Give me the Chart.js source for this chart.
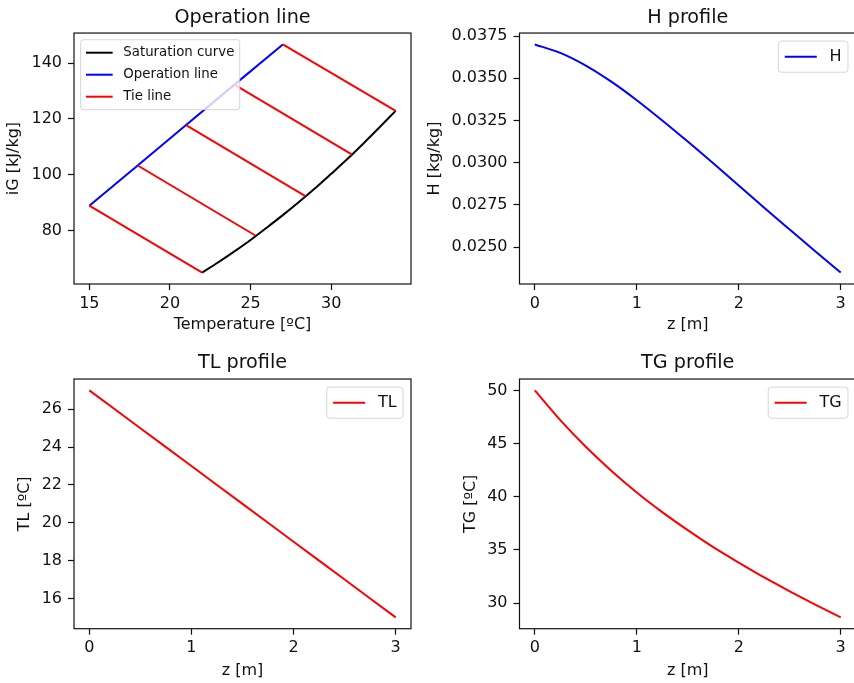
<!DOCTYPE html>
<html>
<head>
<meta charset="utf-8">
<title>Cooling tower profiles</title>
<script src="https://cdn.jsdelivr.net/npm/chart.js@4.4.0/dist/chart.umd.min.js"></script>
<style>
  html, body { margin: 0; padding: 0; background: #fff; overflow: hidden; }
  #page { position: relative; width: 854px; height: 683px; overflow: hidden; }
  canvas { position: absolute; }
</style>
</head>
<body>
<div id="page">
  <canvas id="opChart" width="427" height="340" style="left:0;top:0"></canvas>
  <canvas id="hChart" width="440" height="340" style="left:417px;top:0"></canvas>
  <canvas id="tlChart" width="427" height="343" style="left:0;top:340px"></canvas>
  <canvas id="tgChart" width="440" height="343" style="left:417px;top:340px"></canvas>
</div>
<script>
// === Operation line (enthalpy vs temperature) ===
const satT = [22, 23, 24, 25, 26, 27, 28, 29, 30, 31, 32, 33, 34];
const satIG = [64.9, 68.6, 72.5, 76.6, 81.0, 85.5, 90.2, 95.1, 100.3, 105.6, 111.2, 117.0, 122.9];
const opT = [15, 18, 21, 24, 27];
const opIG = [88.9, 103.3, 117.8, 132.3, 146.7];
// tie lines go from each operation point to the saturation curve
const tieT = [22.0, 25.3, 28.4, 31.3, 34.0];
const tieIG = [64.9, 78.2, 92.3, 107.2, 122.9];
const tempTicks = [15, 20, 25, 30];
const igTicks = [80, 100, 120, 140];

// === Profiles along the column height ===
const z = [0, 0.25, 0.5, 0.75, 1, 1.25, 1.5, 1.75, 2, 2.25, 2.5, 2.75, 3];
const H = [0.03700, 0.03650, 0.03575, 0.03480, 0.03370, 0.03250, 0.03125, 0.02996, 0.02865, 0.02733, 0.02604, 0.02476, 0.02349];
const TL = [27, 26, 25, 24, 23, 22, 21, 20, 19, 18, 17, 16, 15];
const TG = [50, 47.2, 44.7, 42.45, 40.4, 38.55, 36.85, 35.25, 33.8, 32.4, 31.1, 29.85, 28.65];
const zTicks = [0, 1, 2, 3];
const hTicks = [0.025, 0.0275, 0.03, 0.0325, 0.035, 0.0375];
const tlTicks = [16, 18, 20, 22, 24, 26];
const tgTicks = [30, 35, 40, 45, 50];

Chart.defaults.font.family = '"DejaVu Sans", sans-serif';
Chart.defaults.font.size = 16;
Chart.defaults.color = '#111';
Chart.defaults.animation = false;

// matplotlib-like 5% margins
function padRange(vals) {
    const lo = Math.min(...vals), hi = Math.max(...vals), m = (hi - lo) * 0.05;
    return { min: lo - m, max: hi + m };
}

function pts(xs, ys) {
    return xs.map((x, i) => ({ x: x, y: ys[i] }));
}

// box around the plot area
const frame = {
    id: 'frame',
    afterDatasetsDraw(chart) {
        const a = chart.chartArea, ctx = chart.ctx;
        ctx.save();
        ctx.strokeStyle = '#111';
        ctx.lineWidth = 1.2;
        ctx.strokeRect(a.left, a.top, a.right - a.left, a.bottom - a.top);
        ctx.restore();
    }
};

// legend inside the plot area, like matplotlib
const boxLegend = {
    id: 'boxLegend',
    afterDraw(chart, args, opts) {
        if (!opts.fontSize) return;
        const ctx = chart.ctx, a = chart.chartArea, f = opts.fontSize;
        const items = [];
        chart.data.datasets.forEach(ds => {
            if (!items.find(s => s.label === ds.label)) items.push(ds);
        });
        ctx.save();
        ctx.font = f + 'px "DejaVu Sans"';
        const textW = Math.max(...items.map(s => ctx.measureText(s.label).width));
        const bp = 0.4 * f, rowH = 1.15 * f, sp = 0.5 * f, hl = 2 * f, tp = 0.8 * f, ax = 0.5 * f;
        const w = 2 * bp + hl + tp + textW;
        const h = 2 * bp + items.length * rowH + (items.length - 1) * sp;
        const x = opts.corner === 'left' ? a.left + ax : a.right - ax - w;
        const y = a.top + ax;
        ctx.beginPath();
        ctx.roundRect(x, y, w, h, 0.2 * f);
        ctx.fillStyle = 'rgba(255,255,255,0.8)';
        ctx.fill();
        ctx.strokeStyle = 'rgba(204,204,204,0.8)';
        ctx.lineWidth = 1;
        ctx.stroke();
        items.forEach((s, i) => {
            const cy = y + bp + i * (rowH + sp) + rowH / 2;
            ctx.beginPath();
            ctx.moveTo(x + bp, cy);
            ctx.lineTo(x + bp + hl, cy);
            ctx.strokeStyle = s.borderColor;
            ctx.lineWidth = s.borderWidth;
            ctx.stroke();
            ctx.fillStyle = '#111';
            ctx.textBaseline = 'middle';
            ctx.textAlign = 'left';
            ctx.fillText(s.label, x + bp + hl + tp, cy);
        });
        ctx.restore();
    }
};

function xScale(range, ticks, label, height, titlePad) {
    return {
        type: 'linear', position: 'bottom', min: range.min, max: range.max,
        afterBuildTicks: s => { s.ticks = ticks.map(v => ({ value: v })); },
        afterFit: s => { s.height = height; },
        ticks: { autoSkip: false, maxRotation: 0, padding: 4 },
        grid: { drawOnChartArea: false, tickLength: 6, tickColor: '#111', tickWidth: 1.2 },
        border: { display: false },
        title: { display: true, text: label, padding: { top: 0, bottom: titlePad } }
    };
}

function yScale(range, ticks, label, width, titlePad, fmt) {
    return {
        type: 'linear', position: 'left', min: range.min, max: range.max,
        afterBuildTicks: s => { s.ticks = ticks.map(v => ({ value: v })); },
        afterFit: s => { s.width = width; },
        ticks: { autoSkip: false, padding: 6, callback: fmt || (v => String(v)) },
        grid: { drawOnChartArea: false, tickLength: 6, tickColor: '#111', tickWidth: 1.2 },
        border: { display: false },
        title: { display: true, text: label, padding: { top: titlePad, bottom: 0 } }
    };
}

function titleOpts(text, top, bottom) {
    return {
        display: true, text: text, fullSize: false,
        font: { size: 19.2, weight: 'normal' },
        padding: { top: top, bottom: bottom }
    };
}

function lineSet(label, data, color, smooth) {
    return {
        label: label, data: data, borderColor: color, backgroundColor: color,
        borderWidth: 2, pointRadius: 0, fill: false,
        cubicInterpolationMode: smooth ? 'monotone' : 'default', tension: 0
    };
}

// === Operation line ===
const opDatasets = [
    Object.assign(lineSet('Saturation curve', pts(satT, satIG), '#000000', true), { order: 2 }),
    Object.assign(lineSet('Operation line', pts(opT, opIG), '#0000ff', false), { order: 1 })
];
opT.forEach((t, i) => {
    opDatasets.push(Object.assign(
        lineSet('Tie line', [{ x: t, y: opIG[i] }, { x: tieT[i], y: tieIG[i] }], '#ff0000', false),
        { order: 0 }));
});

new Chart(document.getElementById('opChart'), {
    type: 'line',
    data: { datasets: opDatasets },
    options: {
        responsive: false,
        layout: { padding: { left: 0, right: 16, top: 0, bottom: 0 } },
        scales: {
            x: xScale(padRange(satT.concat(opT)), tempTicks, 'Temperature [ºC]', 56, 5.4),
            y: yScale(padRange(satIG.concat(opIG)), igTicks, 'iG [kJ/kg]', 74, 4.4)
        },
        plugins: {
            legend: { display: false },
            tooltip: { enabled: false },
            title: titleOpts('Operation line', 6, 4),
            boxLegend: { fontSize: 13.33, corner: 'left' }
        }
    },
    plugins: [frame, boxLegend]
});

// === H profile ===
new Chart(document.getElementById('hChart'), {
    type: 'line',
    data: { datasets: [lineSet('H', pts(z, H), '#0000ff', true)] },
    options: {
        responsive: false,
        layout: { padding: { left: 0, right: 1, top: 0, bottom: 0 } },
        scales: {
            x: xScale(padRange(z), zTicks, 'z [m]', 56, 5.4),
            y: yScale(padRange(H), hTicks, 'H [kg/kg]', 102.5, 7.9, v => v.toFixed(4))
        },
        plugins: {
            legend: { display: false },
            tooltip: { enabled: false },
            title: titleOpts('H profile', 6, 4),
            boxLegend: { fontSize: 16, corner: 'right' }
        }
    },
    plugins: [frame, boxLegend]
});

// === TL profile ===
new Chart(document.getElementById('tlChart'), {
    type: 'line',
    data: { datasets: [lineSet('TL', pts(z, TL), '#ff0000', false)] },
    options: {
        responsive: false,
        layout: { padding: { left: 0, right: 16, top: 0, bottom: 0 } },
        scales: {
            x: xScale(padRange(z), zTicks, 'z [m]', 54.3, 2.9),
            y: yScale(padRange(TL), tlTicks, 'TL [ºC]', 74, 15.7)
        },
        plugins: {
            legend: { display: false },
            tooltip: { enabled: false },
            title: titleOpts('TL profile', 11, 5),
            boxLegend: { fontSize: 16, corner: 'right' }
        }
    },
    plugins: [frame, boxLegend]
});

// === TG profile ===
new Chart(document.getElementById('tgChart'), {
    type: 'line',
    data: { datasets: [lineSet('TG', pts(z, TG), '#ff0000', true)] },
    options: {
        responsive: false,
        layout: { padding: { left: 0, right: 1, top: 0, bottom: 0 } },
        scales: {
            x: xScale(padRange(z), zTicks, 'z [m]', 54.3, 2.9),
            y: yScale(padRange(TG), tgTicks, 'TG [ºC]', 102.5, 44.6)
        },
        plugins: {
            legend: { display: false },
            tooltip: { enabled: false },
            title: titleOpts('TG profile', 11, 5),
            boxLegend: { fontSize: 16, corner: 'right' }
        }
    },
    plugins: [frame, boxLegend]
});
</script>
</body>
</html>
